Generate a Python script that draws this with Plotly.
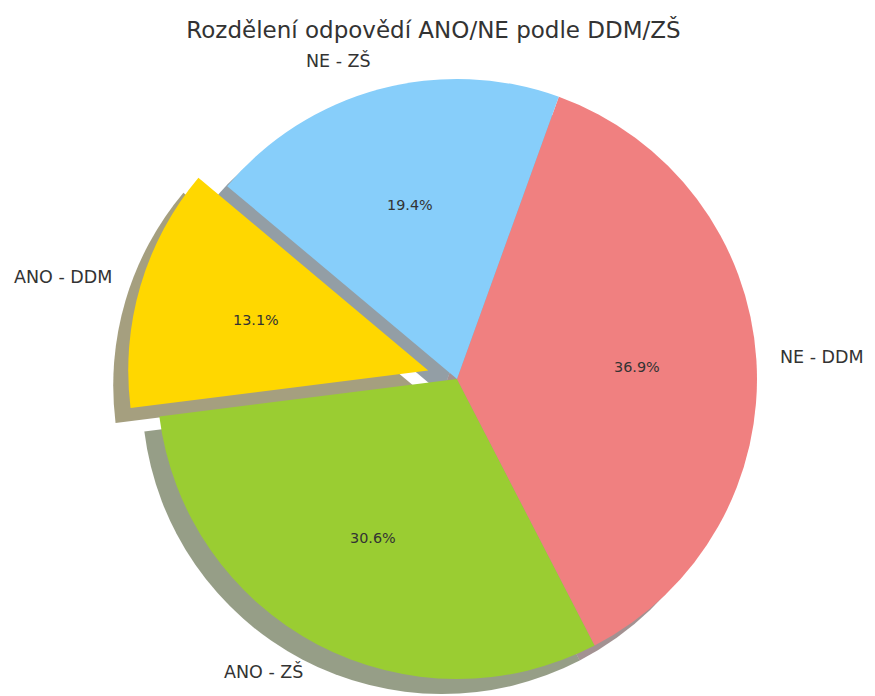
import math
import plotly.graph_objects as go

labels = ["ANO - DDM", "ANO - ZŠ", "NE - DDM", "NE - ZŠ"]
values = [13.1, 30.6, 36.9, 19.4]
colors = ["#FFD700", "#9ACD32", "#F08080", "#87CEFA"]
explode = [0.1, 0, 0, 0]

PAGE_W, PAGE_H = 875, 696
OFF = 8                     # default body margin of the html page
W, H = PAGE_W - OFF, PAGE_H - OFF
CX, CY, R = 457, 379, 300   # pie centre and radius, page pixels
START = 140                 # start angle, degrees counter-clockwise from 3 o'clock
SHADOW = 15                 # shadow offset in pixels (left and down)
FONT = "DejaVu Sans"
CLEAR = "rgba(0,0,0,0)"

total = sum(values)
# plotly measures rotation clockwise from 12 o'clock and, when counter-clockwise,
# anchors the far edge of the first slice there
ROTATION = 90 - START - 360 * values[0] / total


def to_paper(px, py):
    return (px - OFF) / W, 1 - (py - OFF) / H


def shade(hex_color):
    h = hex_color.lstrip("#")
    r, g, b = (int(h[i:i + 2], 16) for i in (0, 2, 4))
    return f"rgba({r * 0.3:.0f}, {g * 0.3:.0f}, {b * 0.3:.0f}, 0.5)"


def domain(cx, cy):
    x0, y1 = to_paper(cx - R, cy - R)
    x1, y0 = to_paper(cx + R, cy + R)
    return dict(x=[x0, x1], y=[y0, y1])


def pie(cx, cy, slice_colors):
    return go.Pie(
        labels=labels,
        values=values,
        sort=False,
        direction="counterclockwise",
        rotation=ROTATION,
        domain=domain(cx, cy),
        marker=dict(colors=slice_colors, line=dict(width=0)),
        textinfo="none",
        hoverinfo="label+percent",
        showlegend=False,
    )


mids = []
a = START
for v in values:
    span = 360 * v / total
    mids.append(math.radians(a + span / 2))
    a += span

# group slices by their explode offset
groups = {}
for i, e in enumerate(explode):
    groups.setdefault(e, []).append(i)

fig = go.Figure()
for layer in ("shadow", "main"):
    for e, idx in groups.items():
        m = mids[idx[0]]
        cx = CX + e * R * math.cos(m)
        cy = CY - e * R * math.sin(m)
        if layer == "shadow":
            cx, cy = cx - SHADOW, cy + SHADOW
            cols = [shade(c) if i in idx else CLEAR for i, c in enumerate(colors)]
        else:
            cols = [c if i in idx else CLEAR for i, c in enumerate(colors)]
        fig.add_trace(pie(cx, cy, cols))

annotations = []
for lab, v, e, m in zip(labels, values, explode, mids):
    c, s = math.cos(m), math.sin(m)
    lx, ly = to_paper(CX + (1.1 + e) * R * c, CY - (1.1 + e) * R * s)
    annotations.append(dict(
        x=lx, y=ly, xref="paper", yref="paper",
        text=lab, showarrow=False, borderpad=0, borderwidth=0,
        xanchor="left" if c > 0 else "right", yanchor="middle",
        xshift=-6 if c > 0 else 0,   # keep the right-hand label inside the page
        font=dict(family=FONT, size=17.5, color="#333333"),
    ))
    px, py = to_paper(CX + (0.6 + e) * R * c, CY - (0.6 + e) * R * s)
    annotations.append(dict(
        x=px, y=py, xref="paper", yref="paper",
        text=f"{100 * v / total:.1f}%", showarrow=False, borderpad=0, borderwidth=0,
        xanchor="center", yanchor="middle",
        font=dict(family=FONT, size=14.4, color="#333333"),
    ))

tx, ty = to_paper(433.5, 30)
fig.update_layout(
    title=dict(
        text="Rozdělení odpovědí ANO/NE podle DDM/ZŠ",
        x=tx, xanchor="center", y=ty, yanchor="middle",
        font=dict(family=FONT, size=23, color="#333333"),
    ),
    annotations=annotations,
    width=W,
    height=H,
    margin=dict(l=0, r=0, t=0, b=0),
    paper_bgcolor="white",
    plot_bgcolor="white",
    font=dict(family=FONT),
)

fig.write_html("out.html")
